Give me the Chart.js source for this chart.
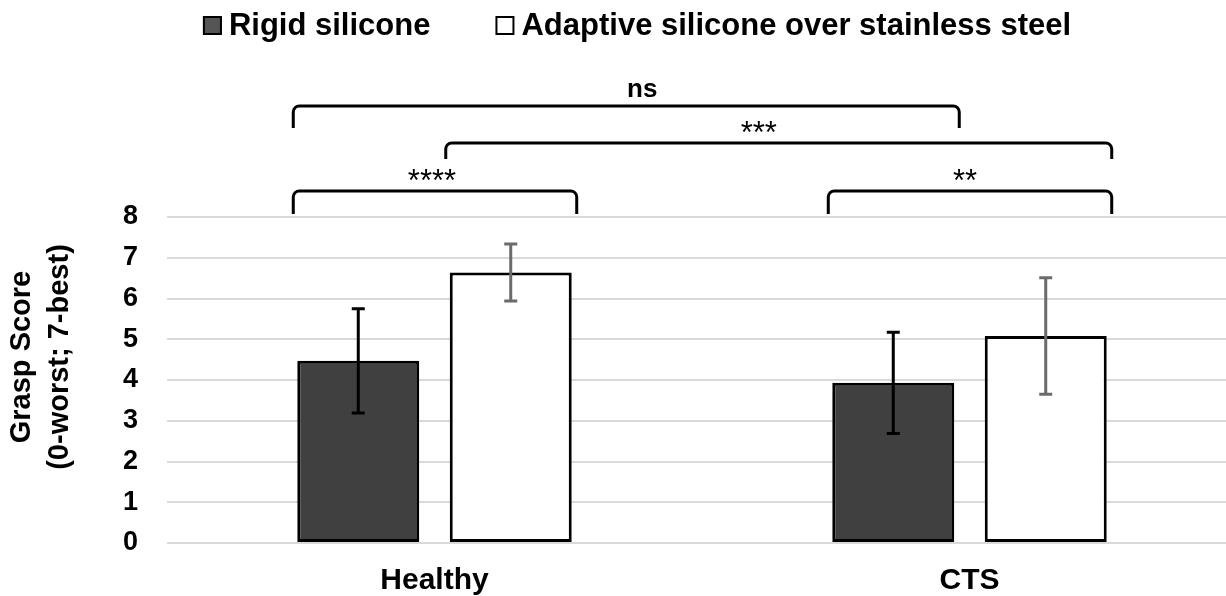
<!DOCTYPE html>
<html>
<head>
<meta charset="utf-8">
<script src="https://cdn.jsdelivr.net/npm/chart.js@4.4.1/dist/chart.umd.min.js"></script>
<style>
  html, body { margin: 0; padding: 0; background: #fff; overflow: hidden; }
</style>
</head>
<body>
<canvas id="grasp" width="1240" height="596"></canvas>
<script>
// Valeurs
const categories = ['Healthy', 'CTS'];
const seriesLabels = ['Rigid silicone', 'Adaptive silicone over stainless steel'];
const rigidMeans = [4.47, 3.93];
const rigidErr = [1.28, 1.24];
const adaptiveMeans = [6.64, 5.08];
const adaptiveErr = [0.70, 1.43];
const yTicks = [0, 1, 2, 3, 4, 5, 6, 7, 8];
const yTitle = ['Grasp Score', '(0-worst; 7-best)'];

// Crochets de significativité : [dataset, index] de départ et d'arrivée
const brackets = [
    { from: [0, 0], to: [1, 0], label: '****', y: 191, drop: 23, shift: -3, bold: false },
    { from: [0, 1], to: [1, 1], label: '**', y: 191, drop: 23, shift: -5, bold: false },
    { from: [1, 0], to: [1, 1], label: '***', y: 143, drop: 16, shift: -20, bold: false },
    { from: [0, 0], to: [0, 1], label: 'ns', y: 106, drop: 22, shift: 16, bold: true },
];

const FONT = '"Liberation Sans", Arial, sans-serif';
const errors = [rigidErr, adaptiveErr];
const errColors = ['#000000', '#6b6b6b'];

const errorBars = {
    id: 'errorBars',
    afterDatasetsDraw(chart) {
        const { ctx } = chart;
        const y = chart.scales.y;
        chart.data.datasets.forEach((ds, di) => {
            const meta = chart.getDatasetMeta(di);
            meta.data.forEach((bar, i) => {
                const v = ds.data[i];
                const e = errors[di][i];
                const top = y.getPixelForValue(v + e);
                const bot = y.getPixelForValue(v - e);
                const cap = 6.5;
                ctx.save();
                ctx.strokeStyle = errColors[di];
                ctx.lineWidth = 3;
                ctx.beginPath();
                ctx.moveTo(bar.x, top); ctx.lineTo(bar.x, bot);
                ctx.moveTo(bar.x - cap, top); ctx.lineTo(bar.x + cap, top);
                ctx.moveTo(bar.x - cap, bot); ctx.lineTo(bar.x + cap, bot);
                ctx.stroke();
                ctx.restore();
            });
        });
    },
};

const decorations = {
    id: 'decorations',
    afterDraw(chart) {
        const { ctx } = chart;

        // légende
        ctx.save();
        ctx.font = 'bold 31px ' + FONT;
        ctx.textBaseline = 'middle';
        const box = 19, gapText = 7, gapItem = 65;
        const widths = chart.data.datasets.map(ds => box + gapText + ctx.measureText(ds.label).width);
        const total = widths.reduce((a, b) => a + b, 0) + gapItem * (widths.length - 1);
        let x = 637 - total / 2;
        chart.data.datasets.forEach((ds, i) => {
            ctx.fillStyle = i === 0 ? '#555555' : '#ffffff';
            ctx.fillRect(x, 16, box, box);
            ctx.strokeStyle = '#000';
            ctx.lineWidth = 2;
            ctx.strokeRect(x + 1, 17, box - 2, box - 2);
            ctx.fillStyle = '#000';
            ctx.fillText(ds.label, x + box + gapText, 26);
            x += widths[i] + gapItem;
        });
        ctx.restore();

        // titre de l'axe y
        ctx.save();
        ctx.font = 'bold 29px ' + FONT;
        ctx.fillStyle = '#000';
        ctx.textAlign = 'center';
        ctx.textBaseline = 'middle';
        ctx.translate(22, 357);
        ctx.rotate(-Math.PI / 2);
        yTitle.forEach((line, i) => ctx.fillText(line, 0, i * 38));
        ctx.restore();

        // crochets
        ctx.save();
        ctx.strokeStyle = '#000';
        ctx.fillStyle = '#000';
        ctx.lineWidth = 3;
        ctx.lineJoin = 'round';
        ctx.textAlign = 'center';
        ctx.textBaseline = 'middle';
        brackets.forEach(b => {
            const a = chart.getDatasetMeta(b.from[0]).data[b.from[1]];
            const c = chart.getDatasetMeta(b.to[0]).data[b.to[1]];
            const l = a.x - a.width / 2 - 4;
            const r = c.x + c.width / 2 + 5;
            const top = b.y, bot = b.y + b.drop, rad = 6;
            ctx.beginPath();
            ctx.moveTo(l, bot);
            ctx.lineTo(l, top + rad);
            ctx.arcTo(l, top, l + rad, top, rad);
            ctx.lineTo(r - rad, top);
            ctx.arcTo(r, top, r, top + rad, rad);
            ctx.lineTo(r, bot);
            ctx.stroke();
            if (b.bold) {
                ctx.font = 'bold 26px ' + FONT;
                ctx.fillText(b.label, (l + r) / 2 + b.shift, top - 16);
            } else {
                ctx.font = '31px ' + FONT;
                ctx.fillText(b.label, (l + r) / 2 + b.shift, top - 9);
            }
        });
        ctx.restore();
    },
};

new Chart(document.getElementById('grasp'), {
    type: 'bar',
    data: {
        labels: categories,
        datasets: [
            {
                label: seriesLabels[0],
                data: rigidMeans,
                backgroundColor: '#404040',
                borderColor: '#000000',
                borderWidth: 3,
                borderSkipped: false,
            },
            {
                label: seriesLabels[1],
                data: adaptiveMeans,
                backgroundColor: '#ffffff',
                borderColor: '#000000',
                borderWidth: 3,
                borderSkipped: false,
            },
        ],
    },
    options: {
        responsive: false,
        animation: false,
        categoryPercentage: 0.57,
        barPercentage: 0.8,
        layout: { padding: { top: 217, right: 3, bottom: 0, left: 0 } },
        plugins: {
            legend: { display: false },
            tooltip: { enabled: false },
        },
        scales: {
            x: {
                afterFit(scale) { scale.height = 53; },
                grid: { display: false },
                border: { display: false },
                ticks: { color: '#000', font: { family: FONT, size: 30, weight: 'bold' }, padding: 12 },
            },
            y: {
                min: 0,
                max: 8,
                afterFit(scale) { scale.width = 167; },
                afterBuildTicks(scale) { scale.ticks = yTicks.map(v => ({ value: v })); },
                grid: { color: '#d9d9d9', lineWidth: 2, drawTicks: false },
                border: { display: false },
                ticks: { color: '#000', font: { family: FONT, size: 27, weight: 'bold' }, padding: 29 },
            },
        },
    },
    plugins: [errorBars, decorations],
});
</script>
</body>
</html>
